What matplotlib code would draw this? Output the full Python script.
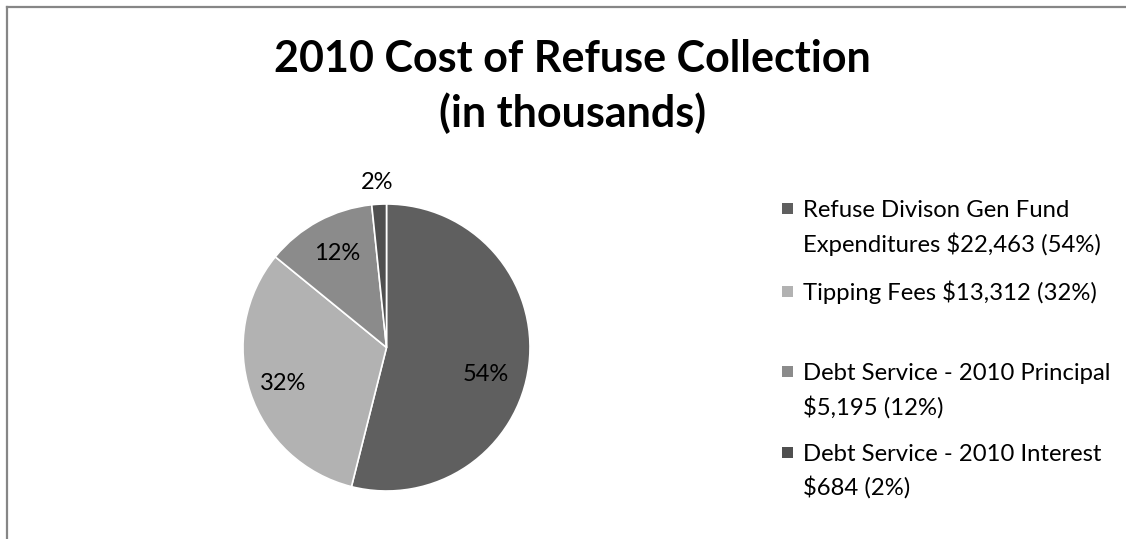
import numpy as np
import matplotlib
matplotlib.use("Agg")
import matplotlib.pyplot as plt
from matplotlib.lines import Line2D
from matplotlib.patches import Rectangle

# data (in thousands)
costs = [22463, 13312, 5195, 684]
pct_labels = ["54%", "32%", "12%", "2%"]
legend_lines = [
    ["Refuse Divison Gen Fund", "Expenditures $22,463 (54%)"],
    ["Tipping Fees $13,312 (32%)"],
    ["Debt Service - 2010 Principal", "$5,195 (12%)"],
    ["Debt Service - 2010 Interest", "$684 (2%)"],
]
colors = ["#5f5f5f", "#b2b2b2", "#8b8b8b", "#4f4f4f"]

W, H = 1126, 539
plt.rcParams['font.family'] = ['Lato', 'DejaVu Sans']
fig = plt.figure(figsize=(W / 100, H / 100), dpi=100)


def fx(x):
    return x / W


def fy(y):
    return 1 - y / H


# chart frame (top and left edges visible)
fig.add_artist(Line2D([fx(7), fx(W)], [fy(7), fy(7)], color="#868686", lw=1.6))
fig.add_artist(Line2D([fx(7.5), fx(7.5)], [fy(7), fy(H)], color="#868686", lw=1.6))

# title
fig.text(fx(572), fy(72), "2010 Cost of Refuse Collection", ha="center",
         va="baseline", fontsize=31, fontweight="bold")
fig.text(fx(573), fy(127), "(in thousands)", ha="center", va="baseline",
         fontsize=31, fontweight="bold")

# pie
cx, cy, R = 386.5, 347.5, 143.5
half = R * 1.2
ax = fig.add_axes([fx(cx - half), fy(cy + half), 2 * half / W, 2 * half / H])
wedges, texts, autotexts = ax.pie(
    costs, colors=colors, startangle=90, counterclock=False,
    autopct="%1.0f%%", pctdistance=0.74,
    wedgeprops=dict(edgecolor="white", linewidth=1.2),
    textprops=dict(fontsize=17, color="black"))
ax.set_xlim(-1.2, 1.2)
ax.set_ylim(-1.2, 1.2)
ax.set_aspect("equal")
ax.axis("off")

# data label placement (radius, angle) like Excel's best fit
label_place = [(0.72, -15.4), (0.76, -160.9), (0.74, 117.6), (1.15, 93.3)]
for t, lab, (r, a) in zip(autotexts, pct_labels, label_place):
    t.set_text(lab)
    t.set_position((r * np.cos(np.radians(a)), r * np.sin(np.radians(a))))
    t.set_ha("center")
    t.set_va("center")

# legend
baselines = [[217, 252], [300], [380, 415], [461, 495]]
for lines, bl, c in zip(legend_lines, baselines, colors):
    cap_mid = bl[0] - 9
    fig.add_artist(Rectangle((fx(782), fy(cap_mid + 5.5)), 11 / W, 11 / H,
                             facecolor=c, edgecolor="none"))
    for line, b in zip(lines, bl):
        fig.text(fx(803), fy(b), line, ha="left", va="baseline", fontsize=17.2)

fig.savefig("out.png", dpi=100, facecolor="white")
